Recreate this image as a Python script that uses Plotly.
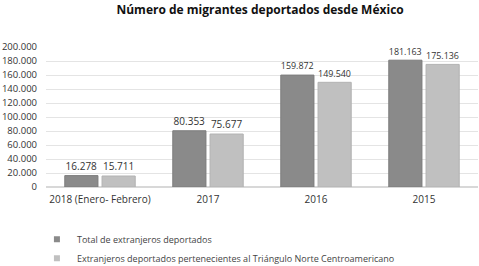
import plotly.graph_objects as go

categories = ["2018 (Enero- Febrero)", "2017", "2016", "2015"]
total = [16278, 80353, 159872, 181163]
tnc = [15711, 75677, 149540, 175136]
series_names = ["Total de extranjeros deportados",
                "Extranjeros deportados pertenecientes al Triángulo Norte Centroamericano"]
colors = ["#8a8a8a", "#c0c0c0"]
tick_vals = list(range(0, 200001, 20000))
tick_text = ["0"] + [f"{v//1000}.000" for v in tick_vals[1:]]

def fmt(v):
    return f"{v//1000}.{v%1000:03d}"

font = "Open Sans"
fig = go.Figure()
for vals, name, col, edge in [(total, series_names[0], colors[0], "#7c7c7c"),
                              (tnc, series_names[1], colors[1], "#b2b2b2")]:
    fig.add_bar(x=categories, y=vals, name=name, showlegend=False,
                marker=dict(color=col, line=dict(color=edge, width=1)),
                text=[fmt(v) for v in vals], textposition="outside",
                textfont=dict(size=10, color="#333"), cliponaxis=False)
# legend entries with small square symbols
for name, col in zip(series_names, colors):
    fig.add_scatter(x=[None], y=[None], mode="markers", name=name,
                    marker=dict(symbol="square", size=6, color=col))

fig.update_layout(
    width=479, height=266,
    margin=dict(l=46, r=1, t=47, b=79, autoexpand=False),
    paper_bgcolor="white", plot_bgcolor="white",
    font=dict(family=font, size=10, color="#333"),
    title=dict(text="<b>Número de migrantes deportados desde México</b>",
               x=0.543, xanchor="center", y=0.965, yanchor="middle",
               font=dict(size=12, color="#111", family=font)),
    barmode="group", bargap=0.31, bargroupgap=0.11,
    showlegend=True,
    legend=dict(orientation="v", x=-0.021, xanchor="left", y=-0.27, yanchor="top",
                font=dict(size=9, color="#444"), itemwidth=30, tracegroupgap=0,
                bgcolor="rgba(0,0,0,0)"),
)
fig.update_xaxes(showline=False, ticks="", tickfont=dict(size=10, color="#333"),
                 automargin=False, ticklabelstandoff=5)
fig.update_yaxes(range=[0, 200000], tickvals=tick_vals, ticktext=tick_text,
                 showgrid=True, gridcolor="#e4e4e4", gridwidth=1,
                 zeroline=True, zerolinecolor="#d8d8d8", automargin=False,
                 ticklabelstandoff=8,
                 tickfont=dict(size=9.5, color="#333"))
fig.write_html("out.html", config={"displayModeBar": False},
               post_script="document.body.style.margin='0';")
